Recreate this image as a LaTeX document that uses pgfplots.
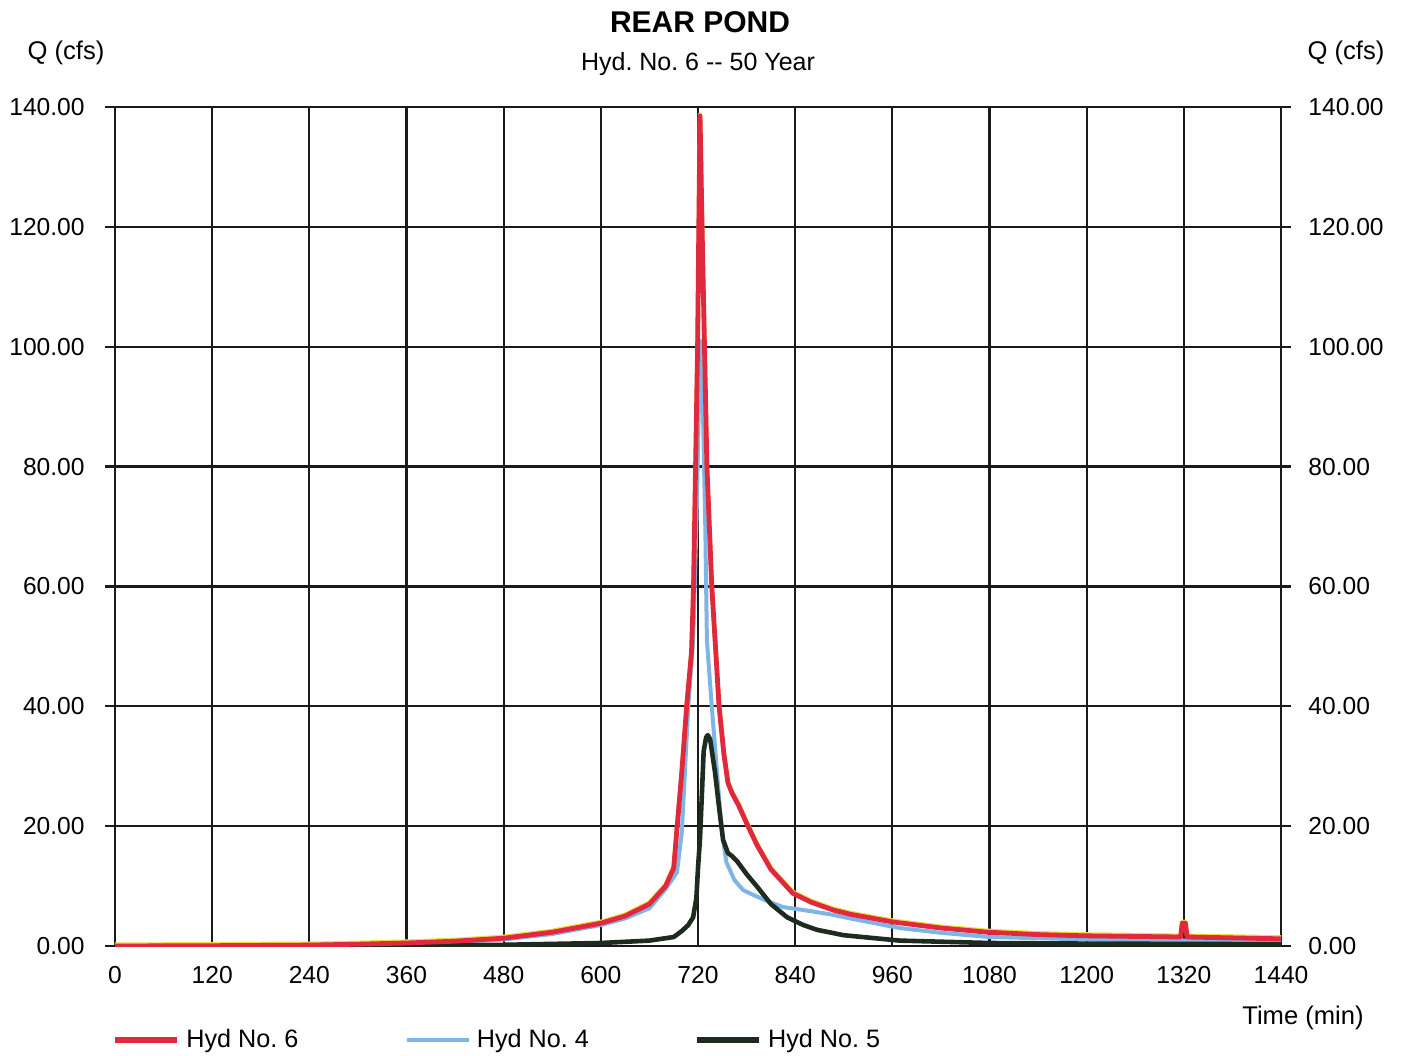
\documentclass[border=0pt]{standalone}
\usepackage{fontspec}
\setmainfont{Liberation Sans}
\usepackage{pgfplots}
\pgfplotsset{compat=1.18}
\usepackage{pgfplotstable}
\frenchspacing

\definecolor{hydred}{HTML}{E0283F}
\definecolor{hydblue}{HTML}{7DB6E6}
\definecolor{hyddark}{HTML}{1E2C20}
\definecolor{hydyellow}{HTML}{F2DC3A}
\definecolor{gridink}{HTML}{1A1A1A}

% Hyd No. 6 (combined outflow)
\pgfplotstableread{
t Q
0 0
120 0.05
240 0.15
300 0.3
360 0.5
420 0.8
480 1.3
540 2.3
600 3.8
630 5.0
660 7.0
680 10.0
690 13.0
694 19.5
700 29
706 40
712 49
714.5 60
717 80
719.5 100
721 120
722.5 138.5
725 120
728 100
731 80
737 60
742 49
746 40
752 32
757 27.2
762 25.5
770 23.5
780 20.5
793 16.8
810 12.8
837 8.8
860 7.3
887 6.0
908 5.3
961 4.0
1020 3.0
1078 2.3
1140 1.9
1198 1.7
1316 1.5
1318 3.8
1322 3.8
1324 1.5
1440 1.2
}\hydsix

% Hyd No. 4
\pgfplotstableread{
t Q
0 0
240 0.1
360 0.4
480 1.1
540 2.0
600 3.5
630 4.6
660 6.3
680 9.5
694 12.3
700 19
708 40
714 51
718 70
721 90
723.5 101
726 90
729 70
731 51
737 40
747 23
751 17.7
755 14
765 11
776 9.3
800 7.8
825 6.5
860 5.8
887 5.2
908 4.6
969 3.0
1020 2.2
1080 1.5
1200 1.1
1320 0.9
1440 0.8
}\hydfour

% Hyd No. 5
\pgfplotstableread{
t Q
0 0
360 0.1
480 0.2
600 0.5
660 0.9
690 1.5
700 2.5
708 3.5
714 4.8
718 8
720 13
722.5 18
725 26
727 32.5
730 34.8
732 35.2
735 34.5
741 29
747 22
751 17.7
757 15.5
762 15
768 14.2
780 12
793 9.9
810 7
830 4.8
850 3.5
867 2.7
900 1.8
969 0.9
1080 0.5
1200 0.4
1440 0.3
}\hydfive

\pgfplotsset{
  hydaxis/.style={
    at={(57.5pt,54.5pt)}, anchor=south west,
    scale only axis, width=583pt, height=419.5pt,
    xmin=0, xmax=1440, ymin=0, ymax=140,
    xtick={0,120,...,1440}, ytick={0,20,...,140},
    tick label style={font=\fontsize{12.3}{14}\selectfont},
    /pgf/number format/assume math mode=true,
    /pgf/number format/1000 sep={},
    yticklabel style={/pgf/number format/fixed,
      /pgf/number format/fixed zerofill,
      /pgf/number format/precision=2},
  },
}

\begin{document}
\begin{tikzpicture}[x=0.5pt,y=0.5pt]
\useasboundingbox (0,0) rectangle (1403,1055);

\begin{axis}[hydaxis,
  grid=major,
  major grid style={gridink, line width=1.1pt},
  axis line style={gridink, line width=1.1pt},
  tick align=outside, major tick length=5pt,
  xtick style={draw=none},
  ytick style={gridink, line width=1.1pt},
  ytick pos=both, yticklabel pos=left,
  yticklabel style={anchor=east, inner sep=0pt, xshift=-10pt},
  xticklabel style={anchor=center, inner sep=0pt, yshift=-9.5pt},
  legend columns=3,
  legend style={draw=none, fill=none, inner sep=0pt,
    at={(axis description cs:-0.0026,-0.112)}, anchor=west,
    font=\fontsize{12.6}{14}\selectfont,
    /tikz/every odd column/.append style={column sep=1pt},
    /tikz/every even column/.append style={column sep=51pt}},
  legend image code/.code={\draw[#1] (0pt,0pt) -- (31pt,0pt);},
]
\addlegendimage{hydred, line width=3pt}
\addlegendentry{Hyd No. 6}
\addlegendimage{hydblue, line width=2.2pt}
\addlegendentry{Hyd No. 4}
\addlegendimage{hyddark, line width=2.6pt}
\addlegendentry{Hyd No. 5}

\addplot[forget plot, hydblue, line width=2pt, line join=round] table[x=t,y=Q] {\hydfour};
\addplot[forget plot, hyddark, line width=2.3pt, line join=round] table[x=t,y=Q] {\hydfive};
\addplot[forget plot, hydyellow, line width=2.2pt, line join=round, yshift=0.7pt] table[x=t,y=Q] {\hydsix};
\addplot[forget plot, hydred, line width=2.4pt, line join=round] table[x=t,y=Q] {\hydsix};
\end{axis}

% right-hand value labels
\begin{axis}[hydaxis,
  hide x axis,
  axis y line*=right,
  y axis line style={draw=none},
  major tick length=0pt,
  yticklabel style={anchor=west, inner sep=0pt, xshift=13.5pt},
]
\end{axis}

\node[font=\bfseries\fontsize{15}{18}\selectfont] at (700,1033) {REAR POND};
\node[font=\fontsize{12.5}{15}\selectfont] at (698,991) {Hyd. No. 6 -\kern0pt- 50 Year};
\node[font=\fontsize{12.8}{15}\selectfont] at (66,1002) {Q (cfs)};
\node[font=\fontsize{12.8}{15}\selectfont] at (1346,1002) {Q (cfs)};
\node[font=\fontsize{12.8}{15}\selectfont] at (1303,37) {Time (min)};
\end{tikzpicture}
\end{document}
